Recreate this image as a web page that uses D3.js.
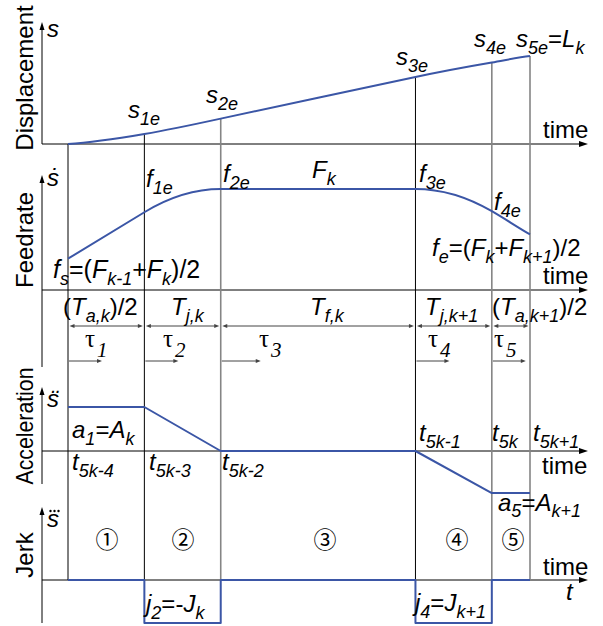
<!DOCTYPE html>
<html>
<head>
<meta charset="utf-8">
<script src="https://cdn.jsdelivr.net/npm/d3@7"></script>
<style>
  body { margin: 0; background: #fff; }
  text { font-family: "Liberation Sans", Arial, sans-serif; fill: #000; }
</style>
</head>
<body>
<svg id="chart" width="603" height="626"></svg>
<script>
// Phase boundaries t_{5k-4} ... t_{5k+1} (time units)
const knotTimes = [0, 1, 2, 4.55, 5.55, 6.05];
// Values at the boundaries
const displacement = [0, 60, 152, 401, 488, 527];
const feedrate = [31, 77, 100, 100, 78, 55];
const acceleration = [46, 46, 0, 0, -44, -44];
// Jerk level held through each of the five phases
const jerkLevels = [0, -1, 0, -1, 0];

const panelTitles = ["Displacement", "Feedrate", "Acceleration", "Jerk"];
const axisSymbols = ["s", "s\u0307", "s\u0308", "s"];
const phaseNames = ["\u2460", "\u2461", "\u2462", "\u2463", "\u2464"];
const durationLabels = ["(T_{a,k})/2", "T_{j,k}", "T_{f,k}", "T_{j,k+1}", "(T_{a,k+1})/2"];
const tauLabels = ["1", "2", "3", "4", "5"];
const displacementLabels = ["s_{1e}", "s_{2e}", "s_{3e}", "s_{4e}", "s_{5e}=L_{k}"];
const feedrateLabels = ["f_{1e}", "f_{2e}", "F_{k}", "f_{3e}", "f_{4e}"];
const feedEndLabels = ["f_{s}=(F_{k-1}+F_{k})/2", "f_{e}=(F_{k}+F_{k+1})/2"];
const timeStampLabels = ["t_{5k-4}", "t_{5k-3}", "t_{5k-2}", "t_{5k-1}", "t_{5k}", "t_{5k+1}"];
const accelLabels = ["a_{1}=A_{k}", "a_{5}=A_{k+1}"];
const jerkLabels = ["j_{2}=-J_{k}", "j_{4}=J_{k+1}"];

const BLUE = "#3b56a6";
const svg = d3.select("#chart");

const x = d3.scaleLinear().domain([knotTimes[0], knotTimes[5]]).range([68, 530]);
const AXIS_LEFT = 42, AXIS_RIGHT = 588;

const yS = d3.scaleLinear().domain([0, 527]).range([144, 56]);
const yF = d3.scaleLinear().domain([0, 100]).range([290, 189]);
const yA = d3.scaleLinear().domain([-46, 46]).range([495, 407]);
const yJ = d3.scaleLinear().domain([-1, 0]).range([623, 580]);

function arrowHead(g, tx, ty, dir, len, half, color) {
  let pts;
  if (dir === "right") pts = [[tx, ty], [tx - len, ty - half], [tx - len, ty + half]];
  else if (dir === "left") pts = [[tx, ty], [tx + len, ty - half], [tx + len, ty + half]];
  else pts = [[tx, ty], [tx - half, ty + len], [tx + half, ty + len]];
  g.append("path").attr("d", d3.line()(pts) + "Z").attr("fill", color);
}

// label text with _{...} subscripts; letters in italics
function richText(g, px, py, src, opt = {}) {
  const size = opt.size || 24, sub = opt.sub || 18, shift = opt.shift || 7;
  const t = g.append("text").attr("x", px).attr("y", py).attr("font-size", size);
  const re = /_\{([^}]*)\}|([^_]+)/g;
  let m, lastSub = false;
  while ((m = re.exec(src))) {
    if (m[1] !== undefined) {
      t.append("tspan").attr("dy", lastSub ? 0 : shift).attr("font-size", sub)
        .attr("font-style", "italic").text(m[1]);
      lastSub = true;
    } else {
      const runs = m[2].match(/[A-Za-z]+|[^A-Za-z]+/g);
      runs.forEach((r, k) => {
        const ts = t.append("tspan")
          .attr("font-style", /[A-Za-z]/.test(r) ? "italic" : "normal").text(r);
        if (lastSub && k === 0) ts.attr("dy", -shift);
      });
      lastSub = false;
    }
  }
  return t;
}

const gAxes = svg.append("g");
const gGuides = svg.append("g");
const gCurves = svg.append("g");
const gText = svg.append("g");

// ---- panel axes ----
const panels = [
  { scale: yS, top: 22, bottom: 144 },
  { scale: yF, top: 175, bottom: 367 },
  { scale: yA, top: 387, bottom: 484 },
  { scale: yJ, top: 507, bottom: 623 }
];
panels.forEach(p => {
  const y0 = p.scale(0);
  gAxes.append("line").attr("x1", AXIS_LEFT).attr("x2", AXIS_LEFT)
    .attr("y1", p.top + 4).attr("y2", p.bottom).attr("stroke", "#000").attr("stroke-width", 1);
  arrowHead(gAxes, AXIS_LEFT, p.top, "up", 8, 2.5, "#000");
  gAxes.append("line").attr("x1", AXIS_LEFT).attr("x2", AXIS_RIGHT - 4)
    .attr("y1", y0).attr("y2", y0).attr("stroke", "#000").attr("stroke-width", 1);
  arrowHead(gAxes, AXIS_RIGHT, y0, "right", 9, 3, "#000");
});

// ---- vertical guides at the phase boundaries ----
const guideStroke = ["#000", "#000", "#858585", "#000", "#858585", "#858585"];
const guideWidth = [1, 1, 1.6, 1, 1.6, 1.6];
knotTimes.forEach((t, i) => {
  gGuides.append("line")
    .attr("x1", x(t)).attr("x2", x(t))
    .attr("y1", yS(displacement[i])).attr("y2", yJ(0))
    .attr("stroke", guideStroke[i]).attr("stroke-width", guideWidth[i]);
});

// ---- curves: cubic Hermite segments from values and derivatives ----
function hermitePath(yScale, vals, slopes) {
  const p = d3.path();
  p.moveTo(x(knotTimes[0]), yScale(vals[0]));
  for (let i = 0; i < knotTimes.length - 1; i++) {
    const t0 = knotTimes[i], t1 = knotTimes[i + 1], h = t1 - t0;
    p.bezierCurveTo(
      x(t0 + h / 3), yScale(vals[i] + slopes[i] * h / 3),
      x(t1 - h / 3), yScale(vals[i + 1] - slopes[i + 1] * h / 3),
      x(t1), yScale(vals[i + 1]));
  }
  return p.toString();
}
const curveStyle = sel => sel.attr("fill", "none").attr("stroke", BLUE)
  .attr("stroke-width", 2).attr("stroke-linejoin", "round");

gCurves.append("path").attr("d", hermitePath(yS, displacement, feedrate)).call(curveStyle);
gCurves.append("path").attr("d", hermitePath(yF, feedrate, acceleration)).call(curveStyle);
gCurves.append("path")
  .attr("d", d3.line().x((d, i) => x(knotTimes[i])).y(d => yA(d))(acceleration))
  .call(curveStyle);
const jerkPts = knotTimes.map((t, i) => [t, jerkLevels[Math.min(i, jerkLevels.length - 1)]]);
gCurves.append("path")
  .attr("d", d3.line().x(d => x(d[0])).y(d => yJ(d[1])).curve(d3.curveStepAfter)(jerkPts))
  .call(curveStyle);

// ---- duration row: double arrows and tau arrows ----
const DUR_Y = 326, TAU_Y = 361, ARROW_GREY = "#444";
for (let i = 0; i < 5; i++) {
  const a = x(knotTimes[i]) + 1.5, b = x(knotTimes[i + 1]) - 1.5;
  gAxes.append("line").attr("x1", a + 3).attr("x2", b - 3).attr("y1", DUR_Y).attr("y2", DUR_Y)
    .attr("stroke", ARROW_GREY).attr("stroke-width", 1);
  arrowHead(gAxes, a, DUR_Y, "left", 5, 2, ARROW_GREY);
  arrowHead(gAxes, b, DUR_Y, "right", 5, 2, ARROW_GREY);
  const s = x(knotTimes[i]) + 1, e = s + (i === 2 ? 39 : 33);
  gAxes.append("line").attr("x1", s).attr("x2", e - 3).attr("y1", TAU_Y).attr("y2", TAU_Y)
    .attr("stroke", ARROW_GREY).attr("stroke-width", 1);
  arrowHead(gAxes, e, TAU_Y, "right", 5, 2, ARROW_GREY);
}

// ---- panel titles (rotated) ----
const titlePos = [[33, 78], [33, 240], [33, 426], [33, 555]];
panelTitles.forEach((name, i) => {
  const t = gText.append("text")
    .attr("transform", `translate(${titlePos[i][0]},${titlePos[i][1]}) rotate(-90)`)
    .attr("text-anchor", "middle").attr("font-size", 24).text(name);
  if (name === "Acceleration") t.attr("textLength", 117).attr("lengthAdjust", "spacingAndGlyphs");
});

// ---- derivative symbols on the vertical axes ----
const symY = [37, 186, 407, 527];
axisSymbols.forEach((sym, i) => {
  gText.append("text").attr("x", 47).attr("y", symY[i]).attr("font-size", 24)
    .attr("font-style", "italic").text(sym);
});
// third-derivative accent: three dots over the jerk-axis s
[50.5, 54.5, 58.5].forEach(cx => {
  gText.append("circle").attr("cx", cx).attr("cy", 511).attr("r", 1.2).attr("fill", "#000");
});

// ---- "time" labels on each horizontal axis ----
[[543, 138], [543, 284], [542, 474], [543, 575]].forEach(p => {
  gText.append("text").attr("x", p[0]).attr("y", p[1]).attr("font-size", 24).text("time");
});
gText.append("text").attr("x", 566).attr("y", 600).attr("font-size", 24)
  .attr("font-style", "italic").text("t");

// ---- displacement labels ----
const sLabelPos = [[128, 118], [206, 103], [396, 65], [474, 47], [516, 47]];
displacementLabels.forEach((l, i) => richText(gText, sLabelPos[i][0], sLabelPos[i][1], l));

// ---- feedrate labels ----
const fLabelPos = [[146, 187], [223, 182], [312, 178], [419, 182], [494, 210]];
feedrateLabels.forEach((l, i) => richText(gText, fLabelPos[i][0], fLabelPos[i][1], l));
richText(gText, 53, 278, feedEndLabels[0], { size: 25 });
richText(gText, 432, 256, feedEndLabels[1]);

// ---- duration labels ----
const durX = [63, 171, 310, 425, 492];
durationLabels.forEach((l, i) => richText(gText, durX[i], 315, l));

// ---- tau labels ----
const tauX = [85, 163, 259, 428, 494];
tauLabels.forEach((n, i) => {
  const t = gText.append("text").attr("x", tauX[i]).attr("y", 347)
    .style("font-family", '"Liberation Serif", "Times New Roman", serif');
  t.append("tspan").attr("font-size", 25).text("\u03c4");
  t.append("tspan").attr("dx", 2).attr("dy", 10).attr("font-size", 21)
    .attr("font-style", "italic").text(n);
});

// ---- acceleration labels ----
const tsPos = [[72, 470], [149, 470], [222, 470], [419, 441], [492, 441], [533, 441]];
timeStampLabels.forEach((l, i) => richText(gText, tsPos[i][0], tsPos[i][1], l));
richText(gText, 72, 438, accelLabels[0]);
richText(gText, 498, 511, accelLabels[1], { shift: 6 });

// ---- jerk panel labels ----
const phaseX = [107, 183, 325, 457, 513];
phaseNames.forEach((c, i) => {
  gText.append("text").attr("x", phaseX[i]).attr("y", 548).attr("text-anchor", "middle")
    .attr("font-size", 23).style("font-family", '"Noto Sans CJK JP", "DejaVu Sans", sans-serif')
    .text(c);
});
richText(gText, 146, 612, jerkLabels[0]);
richText(gText, 415, 611, jerkLabels[1]);
</script>
</body>
</html>
